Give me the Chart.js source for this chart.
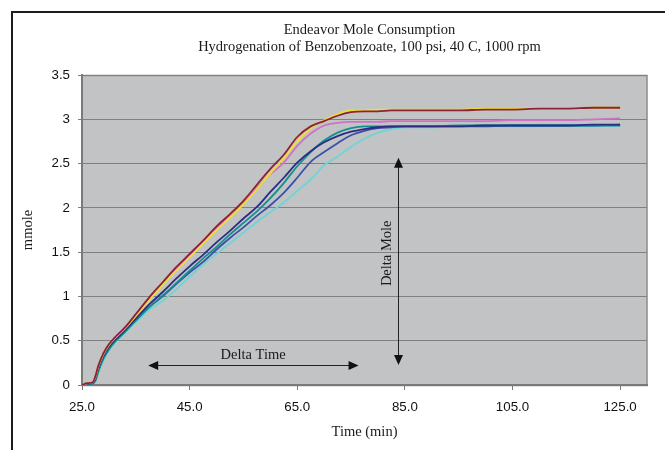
<!DOCTYPE html>
<html><head><meta charset="utf-8">
<script src="https://cdn.jsdelivr.net/npm/chart.js@4.4.1/dist/chart.umd.min.js"></script>
<style>html,body{margin:0;padding:0;background:#fff;}#wrap{width:665px;height:450px;}</style>
</head><body><div id="wrap"><canvas id="c" width="665" height="450"></canvas></div>
<script>
// ---- data ----
const timeMin = [25,26,27,27.5,28,29,30,31,33,35,37.5,40,42.5,45,47.5,50,52.5,55,57.5,60,62.5,65,67.5,70,72.5,75,77.5,80,82.5,85,90,95,100,105,110,115,120,125];
const runRed    = [0.00,0.02,0.03,0.10,0.21,0.36,0.46,0.53,0.65,0.80,0.99,1.16,1.33,1.48,1.63,1.79,1.93,2.08,2.26,2.44,2.60,2.80,2.92,2.98,3.04,3.08,3.09,3.09,3.10,3.10,3.10,3.10,3.11,3.11,3.12,3.12,3.13,3.13];
const runYellow = [0.00,0.02,0.03,0.09,0.20,0.35,0.45,0.52,0.64,0.78,0.96,1.13,1.29,1.44,1.60,1.75,1.89,2.04,2.21,2.39,2.56,2.75,2.90,2.99,3.06,3.10,3.10,3.11,3.11,3.11,3.11,3.11,3.12,3.12,3.12,3.12,3.13,3.13];
const runPink   = [0.00,0.02,0.03,0.10,0.21,0.36,0.46,0.53,0.65,0.79,0.98,1.15,1.31,1.47,1.62,1.77,1.92,2.06,2.22,2.38,2.51,2.70,2.84,2.93,2.96,2.97,2.97,2.97,2.98,2.98,2.98,2.98,2.98,2.99,2.99,2.99,3.00,3.01];
const runNavy   = [0.00,0.02,0.02,0.07,0.18,0.33,0.43,0.50,0.62,0.75,0.91,1.05,1.20,1.34,1.47,1.61,1.74,1.88,2.01,2.18,2.34,2.51,2.64,2.74,2.81,2.86,2.89,2.91,2.92,2.92,2.92,2.92,2.93,2.93,2.93,2.93,2.94,2.94];
const runTeal   = [0.00,0.01,0.02,0.05,0.15,0.30,0.40,0.48,0.60,0.73,0.88,1.01,1.15,1.29,1.43,1.56,1.70,1.83,1.96,2.11,2.28,2.47,2.63,2.76,2.85,2.90,2.92,2.92,2.92,2.92,2.92,2.93,2.93,2.93,2.93,2.93,2.93,2.93];
const runBlue   = [0.00,0.01,0.02,0.06,0.16,0.31,0.41,0.49,0.61,0.73,0.88,1.00,1.14,1.27,1.39,1.53,1.66,1.78,1.91,2.03,2.17,2.34,2.52,2.63,2.73,2.82,2.87,2.90,2.91,2.92,2.92,2.92,2.92,2.93,2.93,2.93,2.93,2.94];
const runCyan   = [0.00,0.01,0.02,0.04,0.13,0.28,0.39,0.47,0.59,0.71,0.85,0.95,1.08,1.22,1.36,1.48,1.60,1.72,1.84,1.95,2.06,2.19,2.32,2.48,2.58,2.69,2.78,2.85,2.89,2.91,2.91,2.92,2.92,2.92,2.92,2.93,2.93,2.93];
const xTickValues = [25,45,65,85,105,125];
const titleLines = ['Endeavor Mole Consumption','Hydrogenation of Benzobenzoate, 100 psi, 40 C, 1000 rpm'];
// annotation anchors in data units
const deltaTimeX = [37.3, 76.4];
const deltaTimeY = 0.226;
const deltaTimeText = ['Delta Time', 56.8, 0.34];
const deltaMoleX = 83.7;
const deltaMoleY = [0.226, 2.565];
const deltaMoleText = ['Delta Mole', 81.74, 1.487];

// ---- build ----
const SERIF = '"Liberation Serif", "Times New Roman", serif';
const SANS = '"Liberation Sans", Arial, sans-serif';
const toPts = arr => arr.map((v,i)=>({x:timeMin[i], y:v}));
const mk = (label, arr, color) => ({label, data: toPts(arr), borderColor: color, backgroundColor: color,
  borderWidth: 1.8, pointRadius: 0, fill: false, cubicInterpolationMode: 'monotone'});

const framePlugin = {
  id: 'frame',
  beforeDraw(chart){
    const {ctx, chartArea:a} = chart;
    ctx.save();
    ctx.fillStyle = '#fff'; ctx.fillRect(0,0,chart.width,chart.height);
    ctx.strokeStyle = '#1c1c1c'; ctx.lineWidth = 2;
    ctx.strokeRect(12,12,chart.width+40,chart.height+40);
    ctx.fillStyle = '#c2c3c5'; ctx.fillRect(a.left,a.top,a.right-a.left,a.bottom-a.top);
    ctx.strokeStyle = '#8c8c8c'; ctx.lineWidth = 1.5;
    ctx.strokeRect(a.left,a.top+0.5,a.right-a.left,a.bottom-a.top);
    ctx.restore();
  },
  afterLayout(chart){
    const tb = chart.titleBlock;
    if (tb){ tb.left = 74; tb.right = 665; }
  }
};

function arrowHead(ctx, x, y, dx, dy){
  const L = 10, W = 4.5;
  const px = -dy, py = dx;
  ctx.beginPath();
  ctx.moveTo(x, y);
  ctx.lineTo(x - dx*L + px*W, y - dy*L + py*W);
  ctx.lineTo(x - dx*L - px*W, y - dy*L - py*W);
  ctx.closePath(); ctx.fill();
}

const annotPlugin = {
  id: 'annot',
  afterDatasetsDraw(chart){
    const {ctx, scales:{x, y}} = chart;
    ctx.save();
    ctx.strokeStyle = '#222'; ctx.fillStyle = '#111'; ctx.lineWidth = 1;
    // Delta Time horizontal arrow
    const x1 = x.getPixelForValue(deltaTimeX[0]), x2 = x.getPixelForValue(deltaTimeX[1]);
    const yy = Math.round(y.getPixelForValue(deltaTimeY)) + 0.5;
    ctx.beginPath(); ctx.moveTo(x1+6, yy); ctx.lineTo(x2-6, yy); ctx.stroke();
    arrowHead(ctx, x1, yy, -1, 0); arrowHead(ctx, x2, yy, 1, 0);
    // Delta Mole vertical arrow
    const xx = Math.round(x.getPixelForValue(deltaMoleX)) + 0.5;
    const y1 = y.getPixelForValue(deltaMoleY[0]), y2 = y.getPixelForValue(deltaMoleY[1]);
    ctx.beginPath(); ctx.moveTo(xx, y1-6); ctx.lineTo(xx, y2+6); ctx.stroke();
    arrowHead(ctx, xx, y1, 0, 1); arrowHead(ctx, xx, y2, 0, -1);
    // labels
    ctx.font = '14.5px ' + SERIF; ctx.fillStyle = '#1a1a1a';
    ctx.textAlign = 'center'; ctx.textBaseline = 'middle';
    ctx.fillText(deltaTimeText[0], x.getPixelForValue(deltaTimeText[1]), y.getPixelForValue(deltaTimeText[2]));
    ctx.translate(x.getPixelForValue(deltaMoleText[1]), y.getPixelForValue(deltaMoleText[2]));
    ctx.rotate(-Math.PI/2);
    ctx.fillText(deltaMoleText[0], 0, 0);
    ctx.restore();
  }
};

new Chart(document.getElementById('c'), {
  type: 'line',
  data: { datasets: [
    mk('Run 1', runRed,    '#8d2233'),
    mk('Run 2', runYellow, '#f0e030'),
    mk('Run 3', runPink,   '#cf72c6'),
    mk('Run 4', runNavy,   '#2c2c86'),
    mk('Run 5', runTeal,   '#11908e'),
    mk('Run 6', runBlue,   '#3a50aa'),
    mk('Run 7', runCyan,   '#70d4d4')
  ]},
  options: {
    responsive: false, animation: false, devicePixelRatio: 1, events: [],
    layout: { padding: { left: 0, right: 18, top: 0, bottom: 0 } },
    plugins: {
      legend: { display: false }, tooltip: { enabled: false },
      title: { display: true, text: titleLines, color: '#1a1a1a',
        font: { family: SERIF, size: 14.5, weight: 'normal', lineHeight: 17/14.5 },
        padding: { top: 21.5, bottom: 19.5 } }
    },
    scales: {
      x: { type: 'linear', min: 25, max: 130,
        afterBuildTicks: s => { s.ticks = xTickValues.map(v => ({ value: v })); },
        afterFit: s => { s.height = 65; },
        ticks: { callback: v => Number(v).toFixed(1), color: '#111', font: { family: SANS, size: 13.3 }, padding: 9, maxRotation: 0, autoSkip: false },
        grid: { drawOnChartArea: false, drawTicks: true, tickLength: 5, color: '#7a7a7a' },
        border: { color: '#7a7a7a', width: 2 },
        title: { display: true, text: 'Time (min)', color: '#1a1a1a', font: { family: SERIF, size: 14.5 }, padding: { top: 0, bottom: 9.3 } }
      },
      y: { min: 0, max: 3.5,
        afterFit: s => { s.width = 82; },
        ticks: { stepSize: 0.5, callback: v => String(Math.round(v*10)/10), color: '#111', font: { family: SANS, size: 13.3 }, padding: 8 },
        grid: { color: '#808080', lineWidth: 1, tickLength: 4 },
        border: { color: '#7a7a7a', width: 2 },
        title: { display: true, text: 'mmole', color: '#1a1a1a', font: { family: SERIF, size: 14.5 }, padding: { top: 19.3, bottom: 0 } }
      }
    }
  },
  plugins: [framePlugin, annotPlugin]
});
</script></body></html>
